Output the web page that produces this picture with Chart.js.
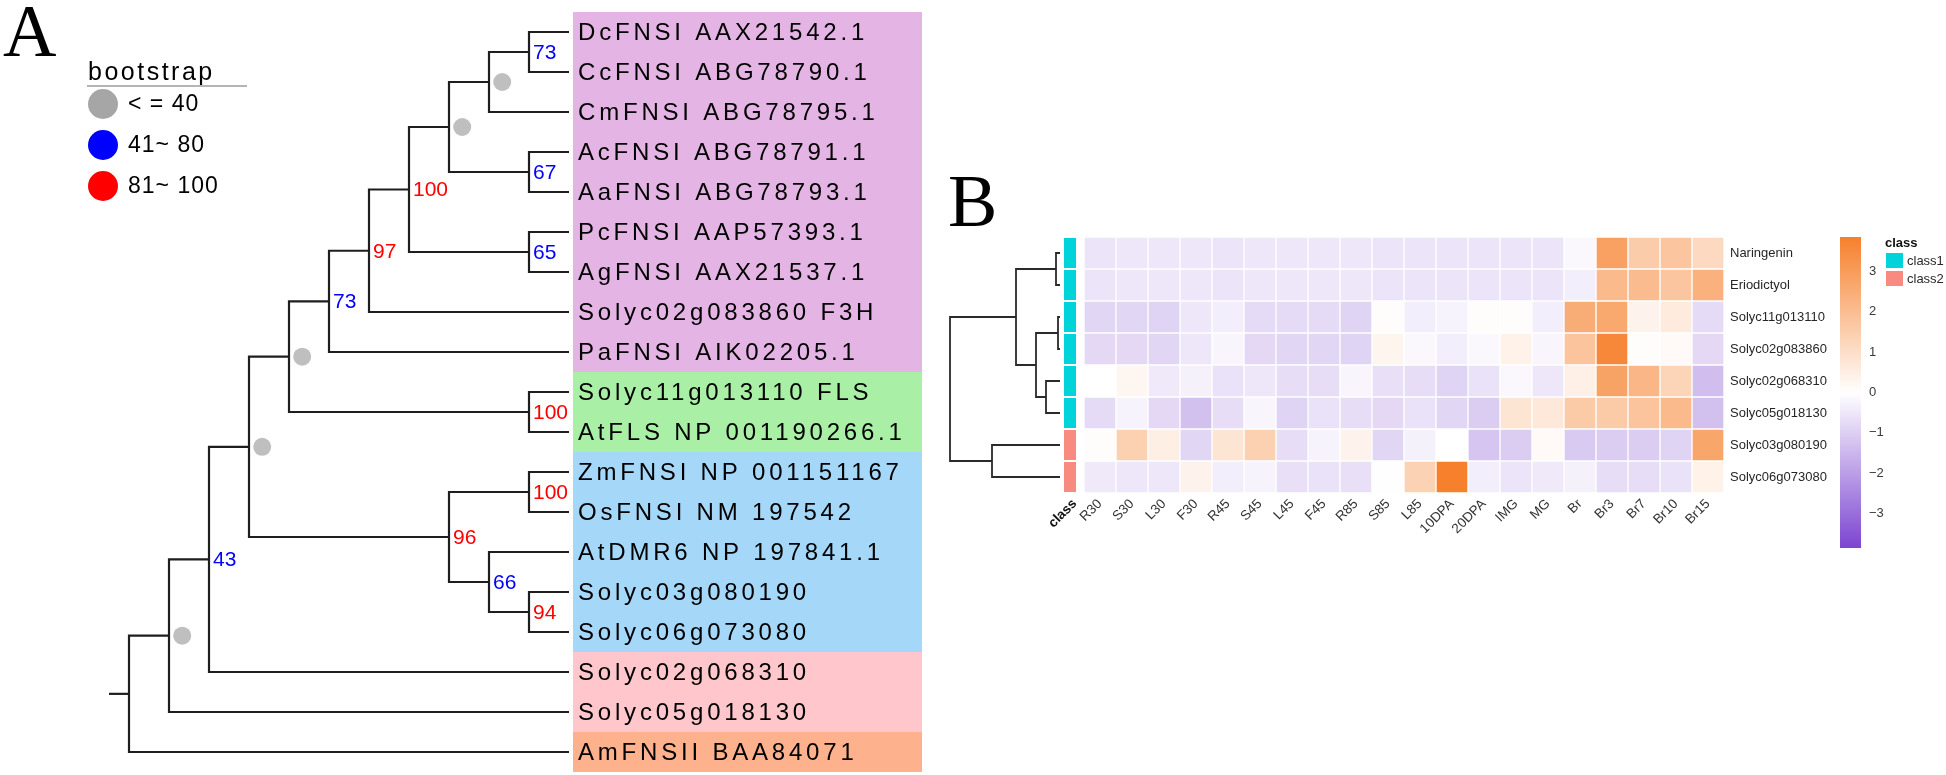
<!DOCTYPE html>
<html>
<head>
<meta charset="utf-8">
<script src="https://cdn.jsdelivr.net/npm/chart.js@4.4.1/dist/chart.umd.min.js"></script>
<style>
  html, body { margin: 0; padding: 0; background: #fff; }
  #wrap { position: relative; width: 1946px; height: 775px; }
  #wrap canvas { position: absolute; left: 0; top: 0; }
</style>
</head>
<body>
<div id="wrap">
  <canvas id="tree-ctx" width="1946" height="775"></canvas>
  <canvas id="dendro-ctx" width="1946" height="775"></canvas>
  <canvas id="heat-ctx" width="1946" height="775"></canvas>
  <canvas id="scale-ctx" width="1946" height="775"></canvas>
</div>
<script>
// DATA - PANEL A (tree)
const leafNames = ['DcFNSI AAX21542.1', 'CcFNSI ABG78790.1', 'CmFNSI ABG78795.1', 'AcFNSI ABG78791.1',
  'AaFNSI ABG78793.1', 'PcFNSI AAP57393.1', 'AgFNSI AAX21537.1', 'Solyc02g083860 F3H', 'PaFNSI AIK02205.1',
  'Solyc11g013110 FLS', 'AtFLS NP 001190266.1', 'ZmFNSI NP 001151167', 'OsFNSI NM 197542',
  'AtDMR6 NP 197841.1', 'Solyc03g080190', 'Solyc06g073080', 'Solyc02g068310', 'Solyc05g018130', 'AmFNSII BAA84071'];
const leafGroup = [0, 0, 0, 0, 0, 0, 0, 0, 0, 1, 1, 2, 2, 2, 2, 2, 3, 3, 4];
const groupColors = ['#E4B4E4', '#A9F0A6', '#A4D7F8', '#FFC6CC', '#FDB18C'];

// internal nodes, children are leaf indexes or earlier nodes ('n3')
const nodeChildren = [[0, 1], ['n0', 2], [3, 4], ['n1', 'n2'], [5, 6], ['n3', 'n4'], ['n5', 7], ['n6', 8],
  [9, 10], ['n7', 'n8'], [11, 12], [14, 15], [13, 'n11'], ['n10', 'n12'], ['n9', 'n13'], ['n14', 16],
  ['n15', 17], ['n16', 18]];
const nodeDepth = [10, 9, 10, 8, 10, 7, 6, 5, 10, 4, 10, 10, 9, 8, 3, 2, 1, 0];
const nodeSupport = [73, '<=40', 67, '<=40', 65, 100, 97, 73, 100, '<=40', 100, 94, 66, 96, '<=40', 43, '<=40', ''];
const tipDepth = 11;

const legendLabels = ['< = 40', '41~ 80', '81~ 100'];
const legendColors = ['#A6A6A6', '#0000FF', '#FF0000'];

// DATA - PANEL B (heatmap)
const colNames = ['R30', 'S30', 'L30', 'F30', 'R45', 'S45', 'L45', 'F45', 'R85', 'S85', 'L85', '10DPA', '20DPA',
  'IMG', 'MG', 'Br', 'Br3', 'Br7', 'Br10', 'Br15'];
const rowNames = ['Naringenin', 'Eriodictyol', 'Solyc11g013110', 'Solyc02g083860', 'Solyc02g068310',
  'Solyc05g018130', 'Solyc03g080190', 'Solyc06g073080'];
const heatValues = [
  [-0.55, -0.5, -0.5, -0.5, -0.55, -0.5, -0.5, -0.5, -0.5, -0.55, -0.55, -0.55, -0.55, -0.55, -0.55, -0.15, 2.85, 1.55, 1.75, 1.15],
  [-0.55, -0.5, -0.5, -0.5, -0.55, -0.5, -0.5, -0.5, -0.5, -0.55, -0.55, -0.55, -0.55, -0.55, -0.55, -0.35, 2.1, 2.05, 1.75, 2.35],
  [-0.85, -0.85, -0.9, -0.5, -0.35, -0.75, -0.75, -0.75, -0.9, 0.05, -0.35, -0.25, 0.05, 0.05, -0.35, 2.5, 2.65, 0.35, 0.6, -0.75],
  [-0.8, -0.8, -0.85, -0.5, -0.2, -0.8, -0.85, -0.85, -0.9, 0.3, -0.15, -0.35, -0.15, 0.4, -0.2, 1.8, 3.6, 0.05, 0.15, -0.8],
  [0.0, 0.25, -0.45, -0.3, -0.6, -0.5, -0.7, -0.7, -0.2, -0.65, -0.7, -0.9, -0.6, -0.15, -0.5, 0.45, 2.8, 2.2, 1.3, -1.35],
  [-0.75, -0.25, -0.8, -1.3, -0.7, -0.2, -0.9, -0.6, -0.7, -0.8, -0.6, -0.85, -1.05, 0.8, 0.7, 1.6, 1.6, 1.8, 2.1, -1.3],
  [0.05, 1.4, 0.5, -0.85, 0.8, 1.4, -0.7, -0.25, 0.35, -0.85, -0.3, 0.0, -1.2, -1.05, 0.15, -1.1, -1.05, -1.05, -0.9, 2.7],
  [-0.45, -0.5, -0.5, 0.35, -0.35, -0.25, -0.65, -0.6, -0.65, 0.02, 1.35, 3.85, -0.35, -0.55, -0.45, -0.3, -0.7, -0.7, -0.6, 0.4]
];
const rowClass = [0, 0, 0, 0, 0, 0, 1, 1];
const classNames = ['class1', 'class2'];
const classColors = ['#00D4DA', '#F98A80'];

// row dendrogram, children are row indexes or earlier nodes ('d2')
const dendroChildren = [[0, 1], [2, 3], [4, 5], ['d1', 'd2'], ['d0', 'd3'], [6, 7], ['d4', 'd5']];
const dendroHeight = [0.4, 0.2, 1.4, 2.4, 4.4, 6.8, 11.0];

const colorRange = [-3.85, 3.85];
const colorTicks = [-3, -2, -1, 0, 1, 2, 3];
const lowColor = [123, 69, 208];
const highColor = [246, 128, 44];

Chart.defaults.font.family = '"Liberation Sans", Arial, sans-serif';
Chart.defaults.animation = false;
Chart.defaults.events = [];
Chart.defaults.plugins.legend.display = false;
Chart.defaults.plugins.tooltip.enabled = false;

const valueColor = (v) => {
  const t = Math.min(Math.abs(v) / colorRange[1], 1);
  const c = v < 0 ? lowColor : highColor;
  return 'rgb(' + c.map(k => Math.round(255 + (k - 255) * t)).join(',') + ')';
};


// TREE GEOMETRY
const nodeY = [];
const refY = (c) => typeof c === 'number' ? c : nodeY[+c.slice(1)];
const refX = (c) => typeof c === 'number' ? tipDepth : nodeDepth[+c.slice(1)];
nodeChildren.forEach((ch, i) => { nodeY[i] = (refY(ch[0]) + refY(ch[1])) / 2; });

const treeDatasets = nodeChildren.map((ch, i) => ({
  type: 'scatter',
  showLine: true,
  data: [
    {x: refX(ch[0]), y: refY(ch[0])},
    {x: nodeDepth[i], y: refY(ch[0])},
    {x: nodeDepth[i], y: refY(ch[1])},
    {x: refX(ch[1]), y: refY(ch[1])}
  ],
  borderColor: '#1e1e1e',
  borderWidth: 2.2,
  borderJoinStyle: 'miter',
  pointRadius: 0,
  clip: false
}));
const rootIdx = nodeChildren.length - 1;
treeDatasets.push({
  type: 'scatter', showLine: true,
  data: [{x: -0.5, y: nodeY[rootIdx]}, {x: nodeDepth[rootIdx], y: nodeY[rootIdx]}],
  borderColor: '#1e1e1e', borderWidth: 2.2, pointRadius: 0, clip: false
});
// grey dots for weak nodes, sitting just right of the node
treeDatasets.push({
  type: 'scatter',
  data: nodeSupport.map((s, i) => s === '<=40' ? {x: nodeDepth[i] + 0.33, y: nodeY[i]} : null).filter(p => p),
  pointRadius: 9,
  backgroundColor: '#BFBFBF',
  borderWidth: 0,
  clip: false
});

const treeDecor = {
  id: 'treeDecor',
  beforeDatasetsDraw(chart) {
    const {ctx, scales: {x, y}} = chart;
    const bandLeft = x.getPixelForValue(tipDepth) + 4;
    ctx.save();
    leafNames.forEach((name, i) => {
      const top = y.getPixelForValue(i - 0.5);
      const bot = y.getPixelForValue(i + 0.5);
      ctx.fillStyle = groupColors[leafGroup[i]];
      ctx.fillRect(bandLeft, top, 349, bot - top);
    });
    ctx.fillStyle = '#000';
    ctx.font = '24px "Liberation Sans", Arial, sans-serif';
    ctx.textBaseline = 'middle';
    ctx.letterSpacing = '3.8px';
    leafNames.forEach((name, i) => {
      ctx.fillText(name, bandLeft + 5, y.getPixelForValue(i) + 1);
    });
    ctx.restore();
  },
  afterDatasetsDraw(chart) {
    const {ctx, scales: {x, y}} = chart;
    ctx.save();
    // bootstrap values
    ctx.font = '21px "Liberation Sans", Arial, sans-serif';
    ctx.textBaseline = 'middle';
    nodeSupport.forEach((s, i) => {
      if (typeof s !== 'number') return;
      ctx.fillStyle = s > 80 ? '#FF0000' : '#0000FF';
      ctx.fillText(String(s), x.getPixelForValue(nodeDepth[i]) + 4, y.getPixelForValue(nodeY[i]) + 1);
    });

    // legend
    ctx.fillStyle = '#000';
    ctx.textBaseline = 'alphabetic';
    ctx.font = '25px "Liberation Sans", Arial, sans-serif';
    ctx.letterSpacing = '2.5px';
    ctx.fillText('bootstrap', 88, 80);
    ctx.strokeStyle = '#B5B5B5';
    ctx.lineWidth = 2;
    ctx.beginPath();
    ctx.moveTo(87, 86);
    ctx.lineTo(247, 86);
    ctx.stroke();
    ctx.font = '23px "Liberation Sans", Arial, sans-serif';
    ctx.letterSpacing = '1px';
    ctx.textBaseline = 'middle';
    legendLabels.forEach((lab, i) => {
      const cy = 104 + i * 41;
      ctx.fillStyle = legendColors[i];
      ctx.beginPath();
      ctx.ellipse(103, cy, 15, 15, 0, 0, Math.PI * 2);
      ctx.fill();
      ctx.fillStyle = '#000';
      ctx.fillText(lab, 128, cy + 1);
    });

    // panel letter
    ctx.letterSpacing = '0px';
    ctx.textBaseline = 'alphabetic';
    ctx.font = '74px "Liberation Serif", "Times New Roman", serif';
    ctx.fillText('A', 3, 56);
    ctx.restore();
  }
};

new Chart(document.getElementById('tree-ctx'), {
  type: 'scatter',
  data: { datasets: treeDatasets },
  options: {
    responsive: false,
    layout: { padding: { left: 109, right: 1377, top: 32, bottom: 23 } },
    scales: {
      x: { type: 'linear', min: -0.5, max: tipDepth, display: false },
      y: { type: 'linear', min: 0, max: leafNames.length - 1, reverse: true, display: false }
    }
  },
  plugins: [treeDecor]
});


// ROW DENDROGRAM
const dNodeY = [];
const dRefY = (c) => typeof c === 'number' ? c + 0.5 : dNodeY[+c.slice(1)];
const dRefX = (c) => typeof c === 'number' ? 0 : dendroHeight[+c.slice(1)];
dendroChildren.forEach((ch, i) => { dNodeY[i] = (dRefY(ch[0]) + dRefY(ch[1])) / 2; });

new Chart(document.getElementById('dendro-ctx'), {
  type: 'scatter',
  data: {
    datasets: dendroChildren.map((ch, i) => ({
      showLine: true,
      data: [
        {x: dRefX(ch[0]), y: dRefY(ch[0])},
        {x: dendroHeight[i], y: dRefY(ch[0])},
        {x: dendroHeight[i], y: dRefY(ch[1])},
        {x: dRefX(ch[1]), y: dRefY(ch[1])}
      ],
      borderColor: '#2a2a2a',
      borderWidth: 1.8,
      borderJoinStyle: 'miter',
      pointRadius: 0,
      clip: false
    }))
  },
  options: {
    responsive: false,
    layout: { padding: { left: 950, right: 886, top: 237, bottom: 282 } },
    scales: {
      x: { type: 'linear', min: 0, max: dendroHeight[dendroHeight.length - 1], reverse: true, display: false },
      y: { type: 'linear', min: 0, max: rowNames.length, reverse: true, display: false }
    }
  }
});


// HEATMAP
const heatDecor = {
  id: 'heatDecor',
  afterDatasetsDraw(chart) {
    const {ctx, chartArea, scales: {y}} = chart;
    ctx.save();
    // class annotation column
    rowClass.forEach((c, r) => {
      const top = y.getPixelForValue(r);
      const bot = y.getPixelForValue(r + 1);
      ctx.fillStyle = classColors[c];
      ctx.fillRect(chartArea.left - 20, top + 1, 12, bot - top - 2);
    });
    ctx.fillStyle = '#111';
    ctx.font = 'bold 13.5px "Liberation Sans", Arial, sans-serif';
    ctx.textAlign = 'right';
    ctx.textBaseline = 'middle';
    ctx.translate(chartArea.left - 15, chartArea.bottom + 3);
    ctx.rotate(-Math.PI / 4);
    ctx.fillText('class', 0, 8);
    ctx.restore();

    ctx.save();
    ctx.fillStyle = '#000';
    ctx.font = '74px "Liberation Serif", "Times New Roman", serif';
    ctx.fillText('B', 948, 226);
    ctx.restore();
  }
};

new Chart(document.getElementById('heat-ctx'), {
  type: 'bar',
  data: {
    labels: colNames,
    datasets: heatValues.map((vals, r) => ({
      label: rowNames[r],
      data: vals.map(() => [r, r + 1]),
      backgroundColor: vals.map(valueColor),
      borderColor: '#ffffff',
      borderWidth: 1,
      borderSkipped: false,
      grouped: false,
      barPercentage: 1,
      categoryPercentage: 1
    }))
  },
  options: {
    responsive: false,
    layout: { padding: { left: 1084, right: 112, top: 237, bottom: 222 } },
    scales: {
      x: {
        type: 'category',
        offset: true,
        grid: { display: false, drawTicks: false },
        border: { display: false },
        ticks: { minRotation: 45, maxRotation: 45, autoSkip: false, padding: 3, color: '#333', font: { size: 13.5 } },
        afterFit: (s) => { s.height = 60; }
      },
      y: { type: 'linear', min: 0, max: rowNames.length, reverse: true, display: false },
      yr: {
        type: 'category',
        axis: 'y',
        position: 'right',
        labels: rowNames,
        offset: true,
        grid: { display: false, drawTicks: false },
        border: { display: false },
        ticks: { padding: 6, color: '#262626', font: { size: 13 } },
        afterFit: (s) => { s.width = 110; }
      }
    }
  },
  plugins: [heatDecor]
});


// COLOUR KEY + CLASS LEGEND
const keyDecor = {
  id: 'keyDecor',
  afterDraw(chart) {
    const {ctx} = chart;
    ctx.save();
    ctx.fillStyle = '#111';
    ctx.textBaseline = 'middle';
    ctx.font = 'bold 13px "Liberation Sans", Arial, sans-serif';
    ctx.fillText('class', 1885, 243);
    ctx.font = '13px "Liberation Sans", Arial, sans-serif';
    classNames.forEach((name, i) => {
      ctx.fillStyle = classColors[i];
      ctx.fillRect(1886, 253 + i * 18, 17, 15);
      ctx.fillStyle = '#2a2a2a';
      ctx.fillText(name, 1907, 261 + i * 18);
    });
    ctx.restore();
  }
};

new Chart(document.getElementById('scale-ctx'), {
  type: 'bar',
  data: {
    labels: [''],
    datasets: [{
      data: [colorRange],
      backgroundColor: (c) => {
        const area = c.chart.chartArea;
        if (!area) return '#fff';
        const g = c.chart.ctx.createLinearGradient(0, area.bottom, 0, area.top);
        g.addColorStop(0, valueColor(colorRange[0]));
        g.addColorStop(0.5, valueColor(0));
        g.addColorStop(1, valueColor(colorRange[1]));
        return g;
      },
      borderWidth: 0,
      barPercentage: 1,
      categoryPercentage: 1
    }]
  },
  options: {
    responsive: false,
    layout: { padding: { left: 1840, right: 45, top: 237, bottom: 227 } },
    scales: {
      x: { display: false },
      y: {
        type: 'linear',
        position: 'right',
        min: colorRange[0],
        max: colorRange[1],
        grid: { display: false, drawTicks: false },
        border: { display: false },
        afterBuildTicks: (s) => { s.ticks = colorTicks.map(v => ({value: v})); },
        ticks: {
          padding: 8,
          color: '#3a3a3a',
          font: { size: 13 },
          callback: (v) => v < 0 ? '\u2212' + Math.abs(v) : String(v)
        },
        afterFit: (s) => { s.width = 40; }
      }
    }
  },
  plugins: [keyDecor]
});
</script>
</body>
</html>
